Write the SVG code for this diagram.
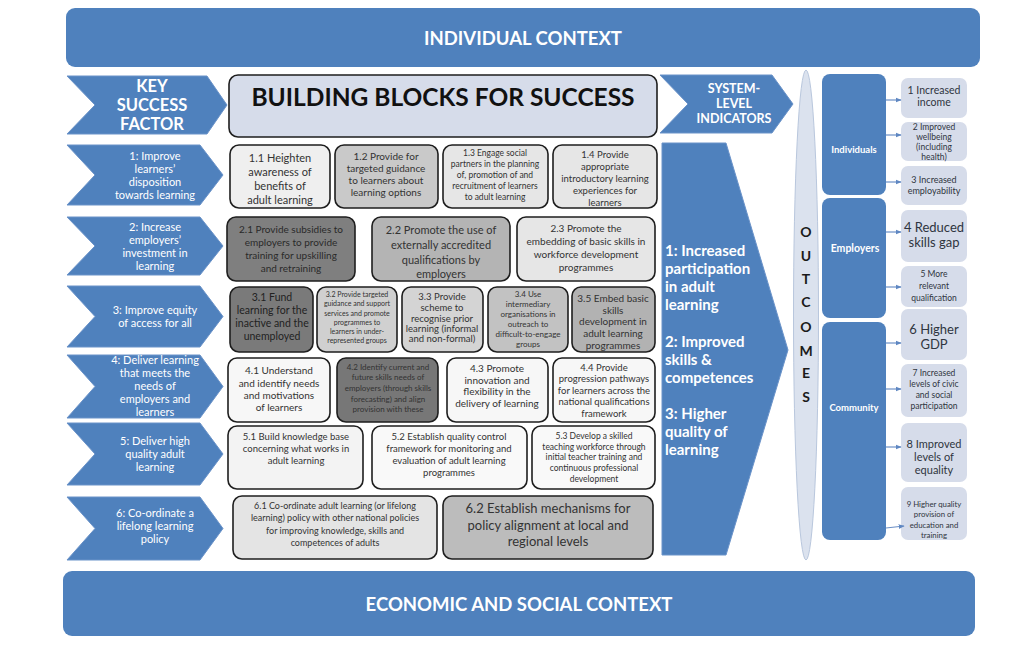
<svg xmlns="http://www.w3.org/2000/svg" width="1024" height="662" viewBox="0 0 1024 662">
<defs>
<marker id="ah" viewBox="0 0 10 10" refX="9" refY="5" markerWidth="5" markerHeight="5" orient="auto">
<path d="M0,1 L10,5 L0,9 Z" fill="#5f87c2"/>
</marker>
<style>
text{font-family:Lato,"Open Sans","Liberation Sans",sans-serif;text-anchor:middle;}
.blue{fill:#4f81bd;}
.chev{fill:#4f81bd;stroke:#6b93c9;stroke-width:1;}
.wt{fill:#ffffff;}
.wb{fill:#ffffff;font-weight:bold;}
.bb{stroke:#1e1e1e;stroke-width:1.6;}
.bt{fill:#333333;}
.ob{fill:#d6dcea;}
.ot{fill:#2f3540;}
.con{stroke:#6b8fc6;stroke-width:1.2;fill:none;marker-end:url(#ah);}
</style>
</defs>
<rect width="1024" height="662" fill="#ffffff"/>

<g id="individual-context">
<rect x="66" y="8" width="914" height="59" rx="9" class="blue"/>
<text x="523" y="45" class="wb" font-size="18.5">INDIVIDUAL CONTEXT</text>
</g>
<g id="economic-context">
<rect x="63" y="571" width="912" height="65" rx="9" class="blue"/>
<text x="519" y="611" class="wb" font-size="18.5">ECONOMIC AND SOCIAL CONTEXT</text>
</g>

<g id="ksf-header">
<path d="M67,76 L207,76 L227,105 L207,134 L67,134 L95,105 Z" class="chev"/>
<text class="wb" font-size="16.5"><tspan x="152" y="92">KEY</tspan><tspan x="152" y="111">SUCCESS</tspan><tspan x="152" y="130">FACTOR</tspan></text>
</g>
<g id="ksf-1">
<path d="M67,145 L200,145 L223,175 L200,205 L67,205 L95,175 Z" class="chev"/>
<text class="wt" font-size="11"><tspan x="155" y="160">1: Improve</tspan><tspan x="155" y="173">learners’</tspan><tspan x="155" y="186">disposition</tspan><tspan x="155" y="199">towards learning</tspan></text>
</g>
<g id="ksf-2">
<path d="M67,217 L200,217 L223,246 L200,275 L67,275 L95,246 Z" class="chev"/>
<text class="wt" font-size="11"><tspan x="155" y="231">2: Increase</tspan><tspan x="155" y="244">employers’</tspan><tspan x="155" y="257">investment in</tspan><tspan x="155" y="270">learning</tspan></text>
</g>
<g id="ksf-3">
<path d="M67,286 L200,286 L223,316.5 L200,347 L67,347 L95,316.5 Z" class="chev"/>
<text class="wt" font-size="11"><tspan x="155" y="314">3: Improve equity</tspan><tspan x="155" y="327">of access for all</tspan></text>
</g>
<g id="ksf-4">
<path d="M67,355 L200,355 L223,386.5 L200,418 L67,418 L95,386.5 Z" class="chev"/>
<text class="wt" font-size="11"><tspan x="155" y="364">4: Deliver learning</tspan><tspan x="155" y="377">that meets the</tspan><tspan x="155" y="390">needs of</tspan><tspan x="155" y="403">employers and</tspan><tspan x="155" y="416">learners</tspan></text>
</g>
<g id="ksf-5">
<path d="M67,423 L200,423 L223,454 L200,485 L67,485 L95,454 Z" class="chev"/>
<text class="wt" font-size="11"><tspan x="155" y="445">5: Deliver high</tspan><tspan x="155" y="458">quality adult</tspan><tspan x="155" y="471">learning</tspan></text>
</g>
<g id="ksf-6">
<path d="M67,497 L200,497 L223,528.5 L200,560 L67,560 L95,528.5 Z" class="chev"/>
<text class="wt" font-size="11"><tspan x="155" y="517">6: Co-ordinate a</tspan><tspan x="155" y="530">lifelong learning</tspan><tspan x="155" y="543">policy</tspan></text>
</g>

<g id="bb-header">
<rect x="229" y="75" width="428" height="62" rx="9" fill="#d6dcea" class="bb"/>
<text x="443" y="106" font-size="24.5" font-weight="bold" fill="#111111">BUILDING BLOCKS FOR SUCCESS</text>
</g>

<g id="b1-1"><rect x="230" y="145" width="100" height="63" rx="9" fill="#efefef" class="bb"/>
<text class="bt" font-size="11"><tspan x="280" y="162">1.1 Heighten</tspan><tspan x="280" y="176">awareness of</tspan><tspan x="280" y="190">benefits of</tspan><tspan x="280" y="204">adult learning</tspan></text></g>
<g id="b1-2"><rect x="335" y="145" width="103" height="63" rx="9" fill="#c9c9c9" class="bb"/>
<text class="bt" font-size="10"><tspan x="386" y="160">1.2 Provide for</tspan><tspan x="386" y="172">targeted guidance</tspan><tspan x="386" y="184">to learners about</tspan><tspan x="386" y="196">learning options</tspan></text></g>
<g id="b1-3"><rect x="443" y="145" width="105" height="63" rx="9" fill="#e6e6e6" class="bb"/>
<text class="bt" font-size="8.5"><tspan x="495" y="156">1.3 Engage social</tspan><tspan x="495" y="167">partners in the planning</tspan><tspan x="495" y="178">of, promotion of and</tspan><tspan x="495" y="189">recruitment of learners</tspan><tspan x="495" y="200">to adult learning</tspan></text></g>
<g id="b1-4"><rect x="553" y="145" width="104" height="63" rx="9" fill="#e6e6e6" class="bb"/>
<text class="bt" font-size="9.5"><tspan x="605" y="158">1.4 Provide</tspan><tspan x="605" y="170">appropriate</tspan><tspan x="605" y="182">introductory learning</tspan><tspan x="605" y="194">experiences for</tspan><tspan x="605" y="206">learners</tspan></text></g>

<g id="b2-1"><rect x="227" y="217" width="128" height="64" rx="9" fill="#7f7f7f" class="bb"/>
<text fill="#2a2a2a" font-size="10"><tspan x="291" y="233">2.1 Provide subsidies to</tspan><tspan x="291" y="246">employers to provide</tspan><tspan x="291" y="259">training for upskilling</tspan><tspan x="291" y="272">and retraining</tspan></text></g>
<g id="b2-2"><rect x="372" y="217" width="138" height="64" rx="9" fill="#b4b4b4" class="bb"/>
<text class="bt" font-size="11"><tspan x="441" y="234">2.2 Promote the use of</tspan><tspan x="441" y="249">externally accredited</tspan><tspan x="441" y="264">qualifications by</tspan><tspan x="441" y="278">employers</tspan></text></g>
<g id="b2-3"><rect x="517" y="217" width="138" height="64" rx="9" fill="#e6e6e6" class="bb"/>
<text class="bt" font-size="10"><tspan x="586" y="232">2.3 Promote the</tspan><tspan x="586" y="245">embedding of basic skills in</tspan><tspan x="586" y="258">workforce development</tspan><tspan x="586" y="271">programmes</tspan></text></g>

<g id="b3-1"><rect x="230" y="287" width="83" height="65" rx="9" fill="#7a7a7a" class="bb"/>
<text fill="#222222" font-size="10.5"><tspan x="272" y="301">3.1 Fund</tspan><tspan x="272" y="314">learning for the</tspan><tspan x="272" y="327">inactive and the</tspan><tspan x="272" y="340">unemployed</tspan></text></g>
<g id="b3-2"><rect x="317" y="287" width="80" height="65" rx="9" fill="#d0d0d0" class="bb"/>
<text class="bt" font-size="7"><tspan x="357" y="297">3.2 Provide targeted</tspan><tspan x="357" y="306">guidance and support</tspan><tspan x="357" y="316">services and promote</tspan><tspan x="357" y="325">programmes to</tspan><tspan x="357" y="334">learners in under-</tspan><tspan x="357" y="343">represented groups</tspan></text></g>
<g id="b3-3"><rect x="402" y="287" width="81" height="65" rx="9" fill="#d4d4d4" class="bb"/>
<text class="bt" font-size="9.5"><tspan x="442" y="300">3.3 Provide</tspan><tspan x="442" y="311">scheme to</tspan><tspan x="442" y="322">recognise prior</tspan><tspan x="442" y="332">learning (informal</tspan><tspan x="442" y="342">and non-formal)</tspan></text></g>
<g id="b3-4"><rect x="488" y="287" width="80" height="65" rx="9" fill="#c2c2c2" class="bb"/>
<text class="bt" font-size="8"><tspan x="528" y="297">3.4 Use</tspan><tspan x="528" y="307">intermediary</tspan><tspan x="528" y="317">organisations in</tspan><tspan x="528" y="327">outreach to</tspan><tspan x="528" y="337">difficult-to-engage</tspan><tspan x="528" y="347">groups</tspan></text></g>
<g id="b3-5"><rect x="572" y="287" width="83" height="65" rx="9" fill="#b2b2b2" class="bb"/>
<text class="bt" font-size="10"><tspan x="613" y="302">3.5 Embed basic</tspan><tspan x="613" y="314">skills</tspan><tspan x="613" y="325">development in</tspan><tspan x="613" y="337">adult learning</tspan><tspan x="613" y="349">programmes</tspan></text></g>

<g id="b4-1"><rect x="228" y="358" width="102" height="64" rx="9" fill="#f7f7f7" class="bb"/>
<text class="bt" font-size="10"><tspan x="279" y="374">4.1 Understand</tspan><tspan x="279" y="387">and identify needs</tspan><tspan x="279" y="399">and motivations</tspan><tspan x="279" y="411">of learners</tspan></text></g>
<g id="b4-2"><rect x="337" y="358" width="101" height="64" rx="9" fill="#777777" class="bb"/>
<text fill="#333333" font-size="8"><tspan x="388" y="370">4.2 Identify current and</tspan><tspan x="388" y="380">future skills needs of</tspan><tspan x="388" y="391">employers (through skills</tspan><tspan x="388" y="402">forecasting) and align</tspan><tspan x="388" y="412">provision with these</tspan></text></g>
<g id="b4-3"><rect x="447" y="358" width="101" height="64" rx="9" fill="#f7f7f7" class="bb"/>
<text class="bt" font-size="10"><tspan x="497" y="372">4.3 Promote</tspan><tspan x="497" y="384">innovation and</tspan><tspan x="497" y="395">flexibility in the</tspan><tspan x="497" y="407">delivery of learning</tspan></text></g>
<g id="b4-4"><rect x="553" y="358" width="102" height="64" rx="9" fill="#f7f7f7" class="bb"/>
<text class="bt" font-size="9.5"><tspan x="604" y="371">4.4 Provide</tspan><tspan x="604" y="382">progression pathways</tspan><tspan x="604" y="394">for learners across the</tspan><tspan x="604" y="405">national qualifications</tspan><tspan x="604" y="417">framework</tspan></text></g>

<g id="b5-1"><rect x="228" y="426" width="135" height="63" rx="9" fill="#f3f3f3" class="bb"/>
<text class="bt" font-size="9.5"><tspan x="296" y="440">5.1 Build knowledge base</tspan><tspan x="296" y="452">concerning what works in</tspan><tspan x="296" y="464">adult learning</tspan></text></g>
<g id="b5-2"><rect x="372" y="426" width="155" height="63" rx="9" fill="#f9f9f9" class="bb"/>
<text class="bt" font-size="9.5"><tspan x="449" y="440">5.2 Establish quality control</tspan><tspan x="449" y="452">framework for monitoring and</tspan><tspan x="449" y="464">evaluation of adult learning</tspan><tspan x="449" y="476">programmes</tspan></text></g>
<g id="b5-3"><rect x="532" y="426" width="123" height="63" rx="9" fill="#f9f9f9" class="bb"/>
<text class="bt" font-size="8.5"><tspan x="594" y="439">5.3 Develop a skilled</tspan><tspan x="594" y="450">teaching workforce through</tspan><tspan x="594" y="460">initial teacher training and</tspan><tspan x="594" y="471">continuous professional</tspan><tspan x="594" y="482">development</tspan></text></g>

<g id="b6-1"><rect x="233" y="496" width="204" height="63" rx="9" fill="#e4e4e4" class="bb"/>
<text class="bt" font-size="9"><tspan x="335" y="509">6.1 Co-ordinate adult learning (or lifelong</tspan><tspan x="335" y="521">learning) policy with other national policies</tspan><tspan x="335" y="534">for improving knowledge, skills and</tspan><tspan x="335" y="546">competences of adults</tspan></text></g>
<g id="b6-2"><rect x="443" y="496" width="210" height="63" rx="9" fill="#bcbcbc" class="bb"/>
<text class="bt" font-size="13"><tspan x="548" y="513">6.2 Establish mechanisms for</tspan><tspan x="548" y="530">policy alignment at local and</tspan><tspan x="548" y="546">regional levels</tspan></text></g>

<g id="sli-header">
<path d="M660,75 L772,75 L793,104 L772,133 L660,133 L688,104 Z" class="chev"/>
<text class="wb" font-size="12.5"><tspan x="734" y="93">SYSTEM-</tspan><tspan x="734" y="108">LEVEL</tspan><tspan x="734" y="123">INDICATORS</tspan></text>
</g>
<g id="sli-arrow">
<path d="M662,143 L726,143 L788,350 L726,555 L662,555 Z" class="chev"/>
<text class="wb" font-size="15" style="text-anchor:start"><tspan x="665" y="256">1: Increased</tspan><tspan x="665" y="274">participation</tspan><tspan x="665" y="292">in adult</tspan><tspan x="665" y="310">learning</tspan><tspan x="665" y="347">2: Improved</tspan><tspan x="665" y="365">skills &amp;</tspan><tspan x="665" y="383">competences</tspan><tspan x="665" y="419">3: Higher</tspan><tspan x="665" y="437">quality of</tspan><tspan x="665" y="455">learning</tspan></text>
</g>

<g id="outcomes">
<ellipse cx="806" cy="315" rx="12.5" ry="245" fill="#dbe2ee" stroke="#b9c7dd" stroke-width="1"/>
<text fill="#1a1a1a" font-size="14" font-weight="bold"><tspan x="806" y="237">O</tspan><tspan x="806" y="261">U</tspan><tspan x="806" y="284">T</tspan><tspan x="806" y="307">C</tspan><tspan x="806" y="332">O</tspan><tspan x="806" y="356">M</tspan><tspan x="806" y="378">E</tspan><tspan x="806" y="402">S</tspan></text>
</g>

<g id="grp-individuals"><rect x="822" y="74" width="64" height="121" rx="8" class="blue"/>
<text x="854" y="153" class="wb" font-size="9.5">Individuals</text></g>
<g id="grp-employers"><rect x="822" y="198" width="64" height="120" rx="8" class="blue"/>
<text x="855" y="252" class="wb" font-size="10.5">Employers</text></g>
<g id="grp-community"><rect x="822" y="322" width="64" height="218" rx="8" class="blue"/>
<text x="854" y="411" class="wb" font-size="9.5">Community</text></g>

<g id="o1"><rect x="901" y="78" width="66" height="40" rx="7" class="ob"/>
<text class="ot" font-size="10.5"><tspan x="934" y="94">1 Increased</tspan><tspan x="934" y="106">income</tspan></text></g>
<g id="o2"><rect x="901" y="122" width="66" height="39" rx="7" class="ob"/>
<text class="ot" font-size="8.5"><tspan x="934" y="130">2 Improved</tspan><tspan x="934" y="140">wellbeing</tspan><tspan x="934" y="150">(including</tspan><tspan x="934" y="160">health)</tspan></text></g>
<g id="o3"><rect x="901" y="166" width="66" height="39" rx="7" class="ob"/>
<text class="ot" font-size="9"><tspan x="934" y="183">3 Increased</tspan><tspan x="934" y="194">employability</tspan></text></g>
<g id="o4"><rect x="901" y="210" width="66" height="52" rx="7" class="ob"/>
<text class="ot" font-size="13"><tspan x="934" y="232">4 Reduced</tspan><tspan x="934" y="247">skills gap</tspan></text></g>
<g id="o5"><rect x="901" y="266" width="66" height="41" rx="7" class="ob"/>
<text class="ot" font-size="8.5"><tspan x="934" y="277">5 More</tspan><tspan x="934" y="289">relevant</tspan><tspan x="934" y="301">qualification</tspan></text></g>
<g id="o6"><rect x="901" y="309" width="66" height="51" rx="7" class="ob"/>
<text class="ot" font-size="13"><tspan x="934" y="334">6 Higher</tspan><tspan x="934" y="349">GDP</tspan></text></g>
<g id="o7"><rect x="901" y="364" width="66" height="53" rx="7" class="ob"/>
<text class="ot" font-size="8.5"><tspan x="934" y="376">7 Increased</tspan><tspan x="934" y="387">levels of civic</tspan><tspan x="934" y="398">and social</tspan><tspan x="934" y="409">participation</tspan></text></g>
<g id="o8"><rect x="901" y="423" width="66" height="59" rx="7" class="ob"/>
<text class="ot" font-size="11"><tspan x="934" y="448">8 Improved</tspan><tspan x="934" y="461">levels of</tspan><tspan x="934" y="474">equality</tspan></text></g>
<g id="o9"><rect x="901" y="487" width="66" height="53" rx="7" class="ob"/>
<text class="ot" font-size="7.8"><tspan x="934" y="507">9 Higher quality</tspan><tspan x="934" y="517">provision of</tspan><tspan x="934" y="528">education and</tspan><tspan x="934" y="538">training</tspan></text></g>

<g id="connectors">
<line x1="886" y1="100" x2="901" y2="100" class="con"/>
<line x1="886" y1="135" x2="901" y2="135" class="con"/>
<line x1="886" y1="182" x2="901" y2="182" class="con"/>
<line x1="886" y1="232" x2="901" y2="232" class="con"/>
<line x1="886" y1="287" x2="901" y2="287" class="con"/>
<line x1="886" y1="343" x2="901" y2="343" class="con"/>
<line x1="886" y1="389" x2="901" y2="389" class="con"/>
<line x1="886" y1="447" x2="901" y2="447" class="con"/>
<line x1="886" y1="528" x2="904" y2="526" class="con"/>
</g>
</svg>
